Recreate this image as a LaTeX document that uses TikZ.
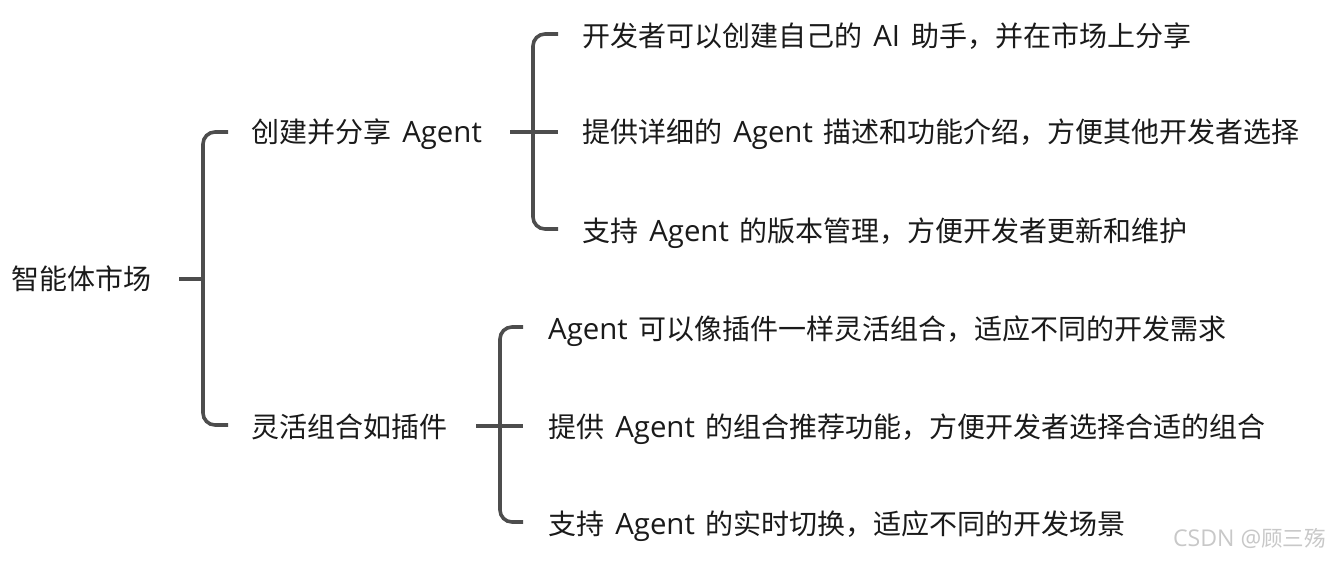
\documentclass[tikz,border=0pt]{standalone}
\usepackage{fontspec}
\setmainfont{Noto Sans CJK SC}
\newfontfamily\latf[Scale=1.05,WordSpace=1.45]{Open Sans}
\newfontfamily\wmfont{Noto Sans CJK SC}
\newcommand{\lat}[1]{{\latf #1}}
\definecolor{linegray}{HTML}{4D4D4D}
\definecolor{txt}{HTML}{1A1A1A}
\definecolor{wm}{HTML}{C8C8C8}
\begin{document}
\begin{tikzpicture}[x=1pt,y=-1pt,
  lbl/.style={anchor=base west,inner sep=0pt,font=\fontsize{28}{30}\selectfont,text=txt},
  br/.style={draw=linegray,line width=3.6pt,rounded corners=12pt,line cap=butt},
  stub/.style={draw=linegray,line width=3.6pt}]
\useasboundingbox (0,0) rectangle (1332,560);
\fill[white] (0,0) rectangle (1332,560);
% nodes
\node[lbl] (root) at (11,289) {智能体市场};
\node[lbl] (n1) at (251,142) {创建并分享\lat{ Agent}};
\node[lbl] (n2) at (251,437) {灵活组合如插件};
\node[lbl] (a1) at (582,46) {开发者可以创建自己的\lat{ AI }助手，并在市场上分享};
\node[lbl] (a2) at (582,142) {提供详细的\lat{ Agent }描述和功能介绍，方便其他开发者选择};
\node[lbl] (a3) at (582,241) {支持\lat{ Agent }的版本管理，方便开发者更新和维护};
\node[lbl] (b1) at (548,339) {\lat{Agent }可以像插件一样灵活组合，适应不同的开发需求};
\node[lbl] (b2) at (548,437) {提供\lat{ Agent }的组合推荐功能，方便开发者选择合适的组合};
\node[lbl] (b3) at (548,534) {支持\lat{ Agent }的实时切换，适应不同的开发场景};
\node[anchor=base east,inner sep=0pt,text=wm] (wmk) at (1326,546)
  {{\latf\fontsize{22}{25}\selectfont CSDN\hspace{6pt}@}{\wmfont\fontsize{21.5}{24}\selectfont 顾三殇}};
% junction coordinates
\coordinate (r0) at (179,279);
\coordinate (j0) at (203,279);
\coordinate (s1) at (510,132);
\coordinate (j1) at (533,132);
\coordinate (s2) at (476,426);
\coordinate (j2) at (500,426);
% root bracket
\draw[stub] (r0) -- (j0);
\draw[br] (228,132) -- (203,132) -- (203,425) -- (228,425);
% bracket 1
\draw[stub] (s1) -- (558,132);
\draw[br] (558,34) -- (533,34) -- (533,229) -- (558,229);
% bracket 2
\draw[stub] (s2) -- (523,426);
\draw[br] (523,327) -- (500,327) -- (500,522) -- (523,522);
\end{tikzpicture}
\end{document}
